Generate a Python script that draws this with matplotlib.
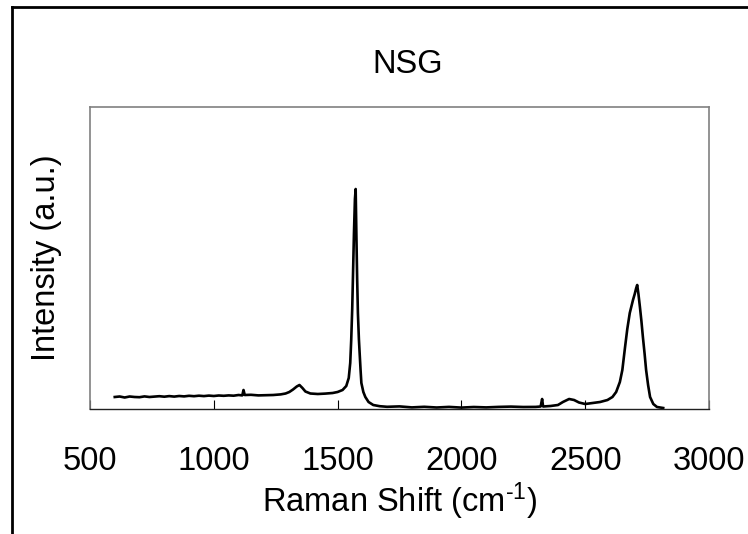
import matplotlib
matplotlib.use("Agg")
import matplotlib.pyplot as plt
from matplotlib.lines import Line2D

# Raman spectrum of NSG (intensity in arbitrary units)
shift = [600, 620, 640, 660, 680, 700, 720, 740, 760, 780, 800, 820, 840, 860,
         880, 900, 920, 940, 960, 980, 1000, 1020, 1040, 1060, 1080, 1100, 1115,
         1120, 1125, 1150, 1180, 1210, 1240, 1270, 1290, 1305, 1320, 1335, 1346,
         1358, 1370, 1390, 1420, 1450, 1480, 1500, 1520, 1535, 1545, 1551, 1555,
         1559, 1562, 1566, 1570, 1573, 1576, 1579, 1582, 1586, 1589, 1593, 1596,
         1604, 1612, 1625, 1644, 1670, 1700, 1750, 1800, 1850, 1900, 1950, 2000,
         2050, 2100, 2150, 2200, 2250, 2300, 2320, 2326, 2330, 2360, 2390, 2410,
         2435, 2455, 2475, 2500, 2530, 2560, 2590, 2610, 2625, 2640, 2650, 2661,
         2670, 2680, 2693, 2700, 2706, 2710, 2715, 2721, 2727, 2733, 2740, 2746,
         2754, 2762, 2775, 2790, 2815]
intensity = [12, 12.5, 11.5, 12.5, 12, 11.8, 12.6, 12, 12.4, 12.8, 12.3, 12.9,
             12.4, 13, 12.6, 13.2, 12.8, 13.3, 12.9, 13.4, 13, 13.5, 13.2, 13.6,
             13.3, 14, 13.6, 19, 14, 14.2, 13.6, 13.8, 14, 14.6, 15.5, 17, 19.5,
             22.5, 24, 21, 17.5, 15.5, 15, 15.4, 16, 17, 19, 23, 31, 46, 69, 100,
             132, 175, 210, 220, 172, 130, 96, 70, 56, 38, 26, 17, 12, 7, 4, 2.8,
             2.2, 2.6, 1.6, 2.2, 1.5, 2.1, 1.4, 2, 1.6, 2.1, 2.4, 2, 2.1, 2.5, 10,
             2.5, 3, 4, 7, 10, 9, 6.5, 5, 6, 7, 9, 12, 17, 27, 39, 62, 80, 96, 109,
             115, 121, 124, 115, 102, 88, 72, 55, 39, 24, 12, 5, 2, 1]

x_ticks = [500, 1000, 1500, 2000, 2500, 3000]
x_tick_labels = ['500', '1000', '1500', '2000', '2500', '3000']

plt.rcParams['font.family'] = ['Liberation Sans', 'DejaVu Sans']
plt.rcParams['mathtext.fontset'] = 'custom'
plt.rcParams['mathtext.rm'] = 'Liberation Sans'
plt.rcParams['mathtext.it'] = 'Liberation Sans'

fig = plt.figure(figsize=(7.48, 5.34), dpi=100)
ax = fig.add_axes([90 / 748, 1 - 409 / 534, 619 / 748, 302 / 534])

ax.plot(shift, intensity, color='black', linewidth=1.9)

ax.set_xlim(500, 3000)
ax.set_ylim(0, 302)
ax.set_xticks(x_ticks)
ax.set_xticklabels(x_tick_labels)
ax.set_yticks([])
ax.tick_params(axis='x', direction='in', length=6.5, width=0.8,
               labelsize=23.5, pad=27, top=False)

for side in ['top', 'right', 'left']:
    ax.spines[side].set_color('#808080')
    ax.spines[side].set_linewidth(1.2)
ax.spines['bottom'].set_color('#202020')
ax.spines['bottom'].set_linewidth(1.0)

fig.text(408 / 748, 1 - 73 / 534, 'NSG', ha='center', va='baseline', fontsize=23.5)
fig.text(400 / 748, 1 - 512 / 534, r'Raman Shift (cm$^{\text{-1}}$)',
         ha='center', va='baseline', fontsize=23.5)
fig.text(47 / 748, 1 - 258 / 534, 'Intensity (a.u.)', rotation=90,
         ha='center', va='center', fontsize=23.5)

# outer frame (only left and top edges visible in the picture)
fx = 12 / 748
fy = 1 - 7 / 534
fig.add_artist(Line2D([fx, fx], [0, fy], color='black', linewidth=2,
                      transform=fig.transFigure))
fig.add_artist(Line2D([fx, 1], [fy, fy], color='black', linewidth=2,
                      transform=fig.transFigure))

fig.savefig('out.png', dpi=100)
